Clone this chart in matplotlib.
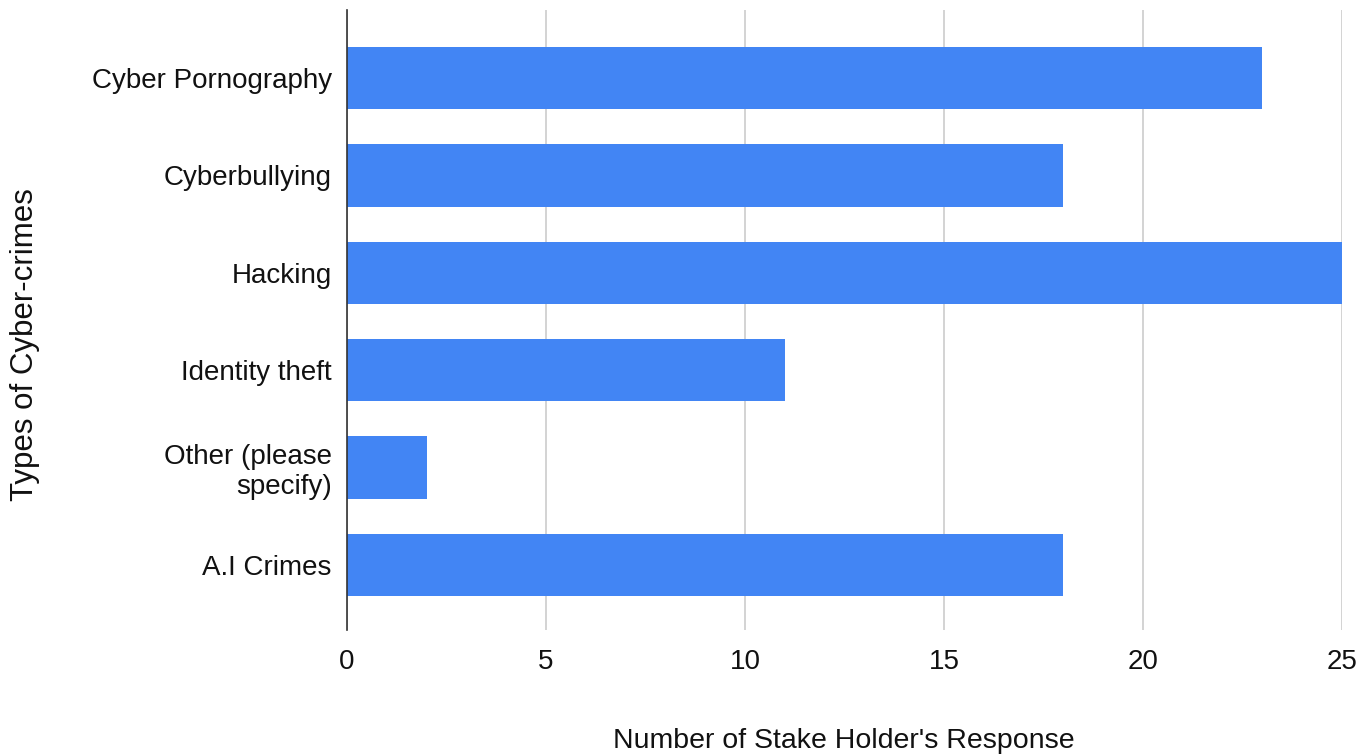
import matplotlib.pyplot as plt

plt.rcParams['font.family'] = ['Liberation Sans', 'DejaVu Sans']

crimes = ['Cyber Pornography', 'Cyberbullying', 'Hacking', 'Identity theft',
          'Other (please\nspecify)', 'A.I Crimes']
responses = [23, 18, 25, 11, 2, 18]
x_ticks = [0, 5, 10, 15, 20, 25]

fig = plt.figure(figsize=(13.72, 7.55), dpi=100)
ax = fig.add_axes([347 / 1372, 125 / 755, 995 / 1372, 620 / 755])

pos = range(len(crimes))
ax.barh(pos, responses, height=0.64, color='#4285F4', zorder=3)

ax.set_ylim(5.67, -0.7)
ax.set_xlim(0, 25)
ax.set_yticks(list(pos))
ax.set_yticklabels(crimes, fontsize=20, ha='right', multialignment='right',
                   linespacing=1.2, color='#111111')
ax.set_xticks(x_ticks)
ax.set_xticklabels([str(t) for t in x_ticks], fontsize=20, color='#111111')
ax.tick_params(axis='x', length=0, pad=14)
ax.tick_params(axis='y', length=0, pad=11)

ax.grid(axis='x', color='#cccccc', linewidth=1.2, zorder=0)
for s in ['top', 'right', 'bottom']:
    ax.spines[s].set_visible(False)
ax.spines['left'].set_color('#333333')
ax.spines['left'].set_linewidth(1.2)
ax.spines['left'].set_zorder(4)

fig.text(844 / 1372, 1 - 741 / 755, "Number of Stake Holder's Response",
         fontsize=20.5, ha='center', va='center', color='#111111')
fig.text(25 / 1372, 1 - 345 / 755, 'Types of Cyber-crimes', rotation=90,
         fontsize=22.5, ha='center', va='center', color='#111111')

fig.savefig('out.png', dpi=100, facecolor='white')
